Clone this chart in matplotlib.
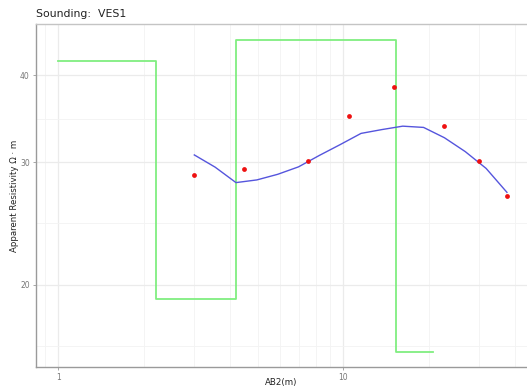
import numpy as np
import matplotlib
matplotlib.use("Agg")
import matplotlib.pyplot as plt
from matplotlib.ticker import FixedLocator, NullFormatter

# Field measurements: half electrode spacing and apparent resistivity
ab2 = [3, 4.5, 7.5, 10.5, 15, 22.5, 30, 37.5]
rho_obs = [28.8, 29.3, 30.1, 35.0, 38.5, 33.8, 30.1, 26.8]

# Smoothed model response, evaluated on a log-spaced grid
fit_ab2 = list(np.geomspace(3, 37.5, 16))
fit_rho = [30.73, 29.51, 28.04, 28.29, 28.82, 29.54, 30.68, 31.80,
           33.00, 33.42, 33.80, 33.66, 32.53, 31.07, 29.39, 27.15]

# Layered model: layer boundaries (depth) and resistivities
layer_depth = [1.0, 2.2, 4.2, 15.3, 20.6]
layer_rho = [42.0, 19.06, 45.0, 16.0]

x_major = [1, 10]
x_minor = [0.9, 2, 3, 4, 5, 6, 7, 8, 9, 20, 30, 40]
y_major = [20, 30, 40]
y_minor = [16.33, 24.49, 34.64]

# Build step line coordinates from the layered model
step_x, step_y = [], []
for i, r in enumerate(layer_rho):
    step_x += [layer_depth[i], layer_depth[i + 1]]
    step_y += [r, r]

fig = plt.figure(figsize=(5.27, 3.89), dpi=100)
ax = fig.add_axes([36 / 527, 22 / 389, 491 / 527, 343 / 389])
ax.set_xscale("log")
ax.set_yscale("log")
ax.set_xlim(0.835, 44.1)
ax.set_ylim(15.23, 47.4)

ax.xaxis.set_major_locator(FixedLocator(x_major))
ax.xaxis.set_minor_locator(FixedLocator(x_minor))
ax.yaxis.set_major_locator(FixedLocator(y_major))
ax.yaxis.set_minor_locator(FixedLocator(y_minor))
ax.set_xticklabels([str(v) for v in x_major])
ax.set_yticklabels([str(v) for v in y_major])
ax.xaxis.set_minor_formatter(NullFormatter())
ax.yaxis.set_minor_formatter(NullFormatter())

ax.grid(which="major", color="#ebebeb", linewidth=0.9)
ax.grid(which="minor", color="#f3f3f3", linewidth=0.6)
ax.set_axisbelow(True)

ax.tick_params(which="major", length=2.5, width=0.6, color="#999999",
               labelsize=5.5, labelcolor="#777777", pad=2)
ax.tick_params(which="minor", length=0)

for side in ("left", "bottom"):
    ax.spines[side].set_color("#9a9a9a")
    ax.spines[side].set_linewidth(1.0)
ax.spines["top"].set_color("#c4c4c4")
ax.spines["top"].set_linewidth(1.0)
ax.spines["right"].set_visible(False)

ax.plot(step_x, step_y, color="#80ee80", linewidth=1.3, zorder=2)
ax.plot(fit_ab2, fit_rho, color="#5555dd", linewidth=1.0, zorder=3)
ax.scatter(ab2, rho_obs, color="#ee1111", s=12, zorder=4, linewidths=0)

ax.set_xlabel("AB2(m)", fontsize=6.2, color="#222222")
ax.xaxis.label.set_va("center")
ax.xaxis.set_label_coords(0.5, -16 / 343)
ax.set_ylabel("Apparent Resistivity \u03a9 \u00b7 m", fontsize=6.2,
              color="#222222")
ax.yaxis.label.set_va("center")
ax.yaxis.set_label_coords(-21 / 491, 0.5)

fig.text(36 / 527, 1 - 14 / 389, "Sounding:  VES1", fontsize=7.8,
         color="#222222", va="center", ha="left")

fig.savefig("out.png", dpi=100)
